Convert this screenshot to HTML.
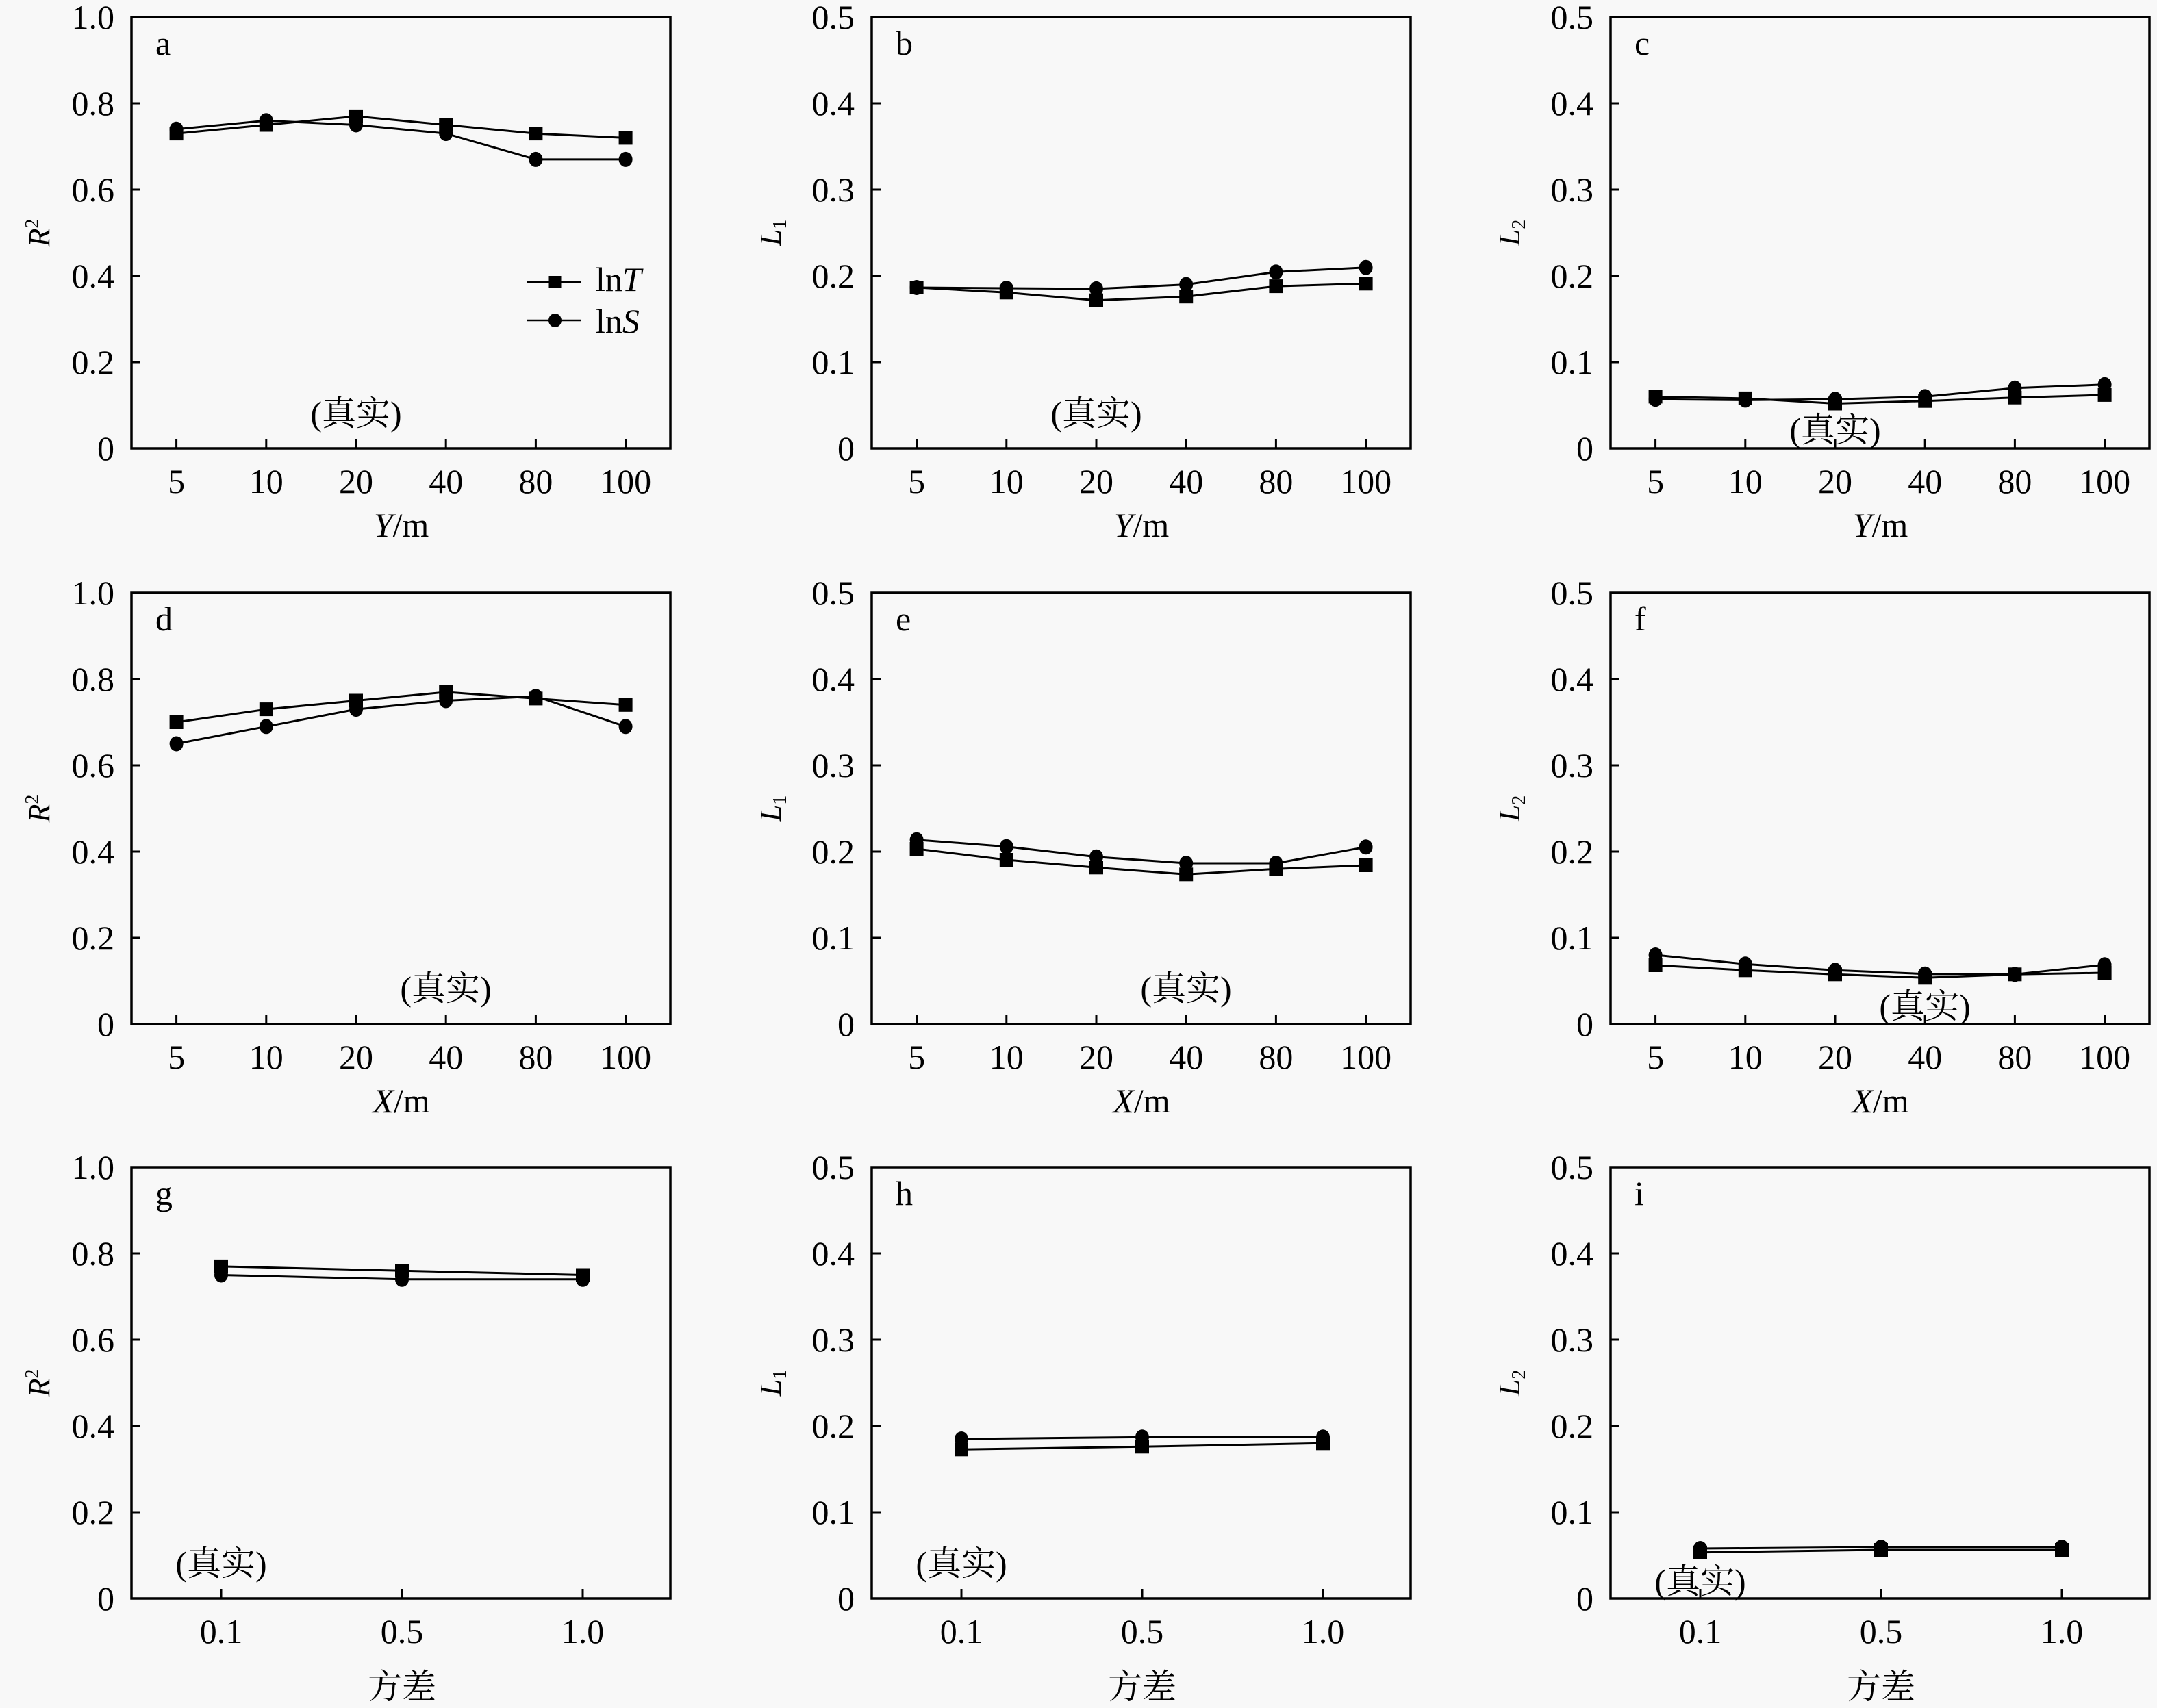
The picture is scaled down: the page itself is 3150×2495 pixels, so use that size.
<!DOCTYPE html>
<html><head><meta charset="utf-8"><style>
html,body{margin:0;padding:0;background:#f8f8f8;}
svg{display:block;}
text{font-family:"Liberation Serif","Noto Serif CJK SC",serif;fill:#000;}
.t{font-size:50px;}
.r{text-anchor:end;}
.m{text-anchor:middle;}
.ax{font-size:44px;}
.fr{fill:none;stroke:#000;stroke-width:3.5;}
.tk{fill:none;stroke:#000;stroke-width:3;}
.sT{fill:none;stroke:#000;stroke-width:3;marker-start:url(#sq);marker-mid:url(#sq);marker-end:url(#sq);}
.sS{fill:none;stroke:#000;stroke-width:3;marker-start:url(#ci);marker-mid:url(#ci);marker-end:url(#ci);}
</style></head><body>
<svg width="3150" height="2495" viewBox="0 0 3150 2495" xmlns="http://www.w3.org/2000/svg">
<defs>
<marker id="sq" markerUnits="userSpaceOnUse" markerWidth="22" markerHeight="22" refX="11" refY="11" viewBox="0 0 22 22"><rect x="1" y="1" width="20" height="20" fill="#000"/></marker>
<marker id="ci" markerUnits="userSpaceOnUse" markerWidth="22" markerHeight="24" refX="11" refY="12" viewBox="0 0 22 24"><ellipse cx="11" cy="12" rx="10" ry="11" fill="#000"/></marker>
</defs>
<rect x="0" y="0" width="3150" height="2495" fill="#f8f8f8"/>

<!-- frames -->
<rect class="fr" x="192" y="25" width="787" height="630"/>
<rect class="fr" x="1273" y="25" width="787" height="630"/>
<rect class="fr" x="2352" y="25" width="787" height="630"/>
<rect class="fr" x="192" y="866" width="787" height="630"/>
<rect class="fr" x="1273" y="866" width="787" height="630"/>
<rect class="fr" x="2352" y="866" width="787" height="630"/>
<rect class="fr" x="192" y="1705" width="787" height="630"/>
<rect class="fr" x="1273" y="1705" width="787" height="630"/>
<rect class="fr" x="2352" y="1705" width="787" height="630"/>

<!-- ticks -->
<path class="tk" d="M192 151h13M192 277h13M192 403h13M192 529h13M257.6 655v-14M388.8 655v-14M520 655v-14M651.2 655v-14M782.4 655v-14M913.6 655v-14"/>
<path class="tk" d="M1273 151h13M1273 277h13M1273 403h13M1273 529h13M1338.6 655v-14M1469.8 655v-14M1601 655v-14M1732.2 655v-14M1863.4 655v-14M1994.6 655v-14"/>
<path class="tk" d="M2352 151h13M2352 277h13M2352 403h13M2352 529h13M2417.6 655v-14M2548.8 655v-14M2680 655v-14M2811.2 655v-14M2942.4 655v-14M3073.6 655v-14"/>
<path class="tk" d="M192 992h13M192 1118h13M192 1244h13M192 1370h13M257.6 1496v-14M388.8 1496v-14M520 1496v-14M651.2 1496v-14M782.4 1496v-14M913.6 1496v-14"/>
<path class="tk" d="M1273 992h13M1273 1118h13M1273 1244h13M1273 1370h13M1338.6 1496v-14M1469.8 1496v-14M1601 1496v-14M1732.2 1496v-14M1863.4 1496v-14M1994.6 1496v-14"/>
<path class="tk" d="M2352 992h13M2352 1118h13M2352 1244h13M2352 1370h13M2417.6 1496v-14M2548.8 1496v-14M2680 1496v-14M2811.2 1496v-14M2942.4 1496v-14M3073.6 1496v-14"/>
<path class="tk" d="M192 1831h13M192 1957h13M192 2083h13M192 2209h13M323 2335v-14M587 2335v-14M851 2335v-14"/>
<path class="tk" d="M1273 1831h13M1273 1957h13M1273 2083h13M1273 2209h13M1404 2335v-14M1668 2335v-14M1932 2335v-14"/>
<path class="tk" d="M2352 1831h13M2352 1957h13M2352 2083h13M2352 2209h13M2483 2335v-14M2747 2335v-14M3011 2335v-14"/>

<!-- y tick labels row 1 -->
<g class="t r">
<text x="167" y="672">0</text><text x="167" y="546">0.2</text><text x="167" y="420">0.4</text><text x="167" y="294">0.6</text><text x="167" y="168">0.8</text><text x="167" y="42">1.0</text>
<text x="1248" y="672">0</text><text x="1248" y="546">0.1</text><text x="1248" y="420">0.2</text><text x="1248" y="294">0.3</text><text x="1248" y="168">0.4</text><text x="1248" y="42">0.5</text>
<text x="2327" y="672">0</text><text x="2327" y="546">0.1</text><text x="2327" y="420">0.2</text><text x="2327" y="294">0.3</text><text x="2327" y="168">0.4</text><text x="2327" y="42">0.5</text>
<!-- row 2 -->
<text x="167" y="1513">0</text><text x="167" y="1387">0.2</text><text x="167" y="1261">0.4</text><text x="167" y="1135">0.6</text><text x="167" y="1009">0.8</text><text x="167" y="883">1.0</text>
<text x="1248" y="1513">0</text><text x="1248" y="1387">0.1</text><text x="1248" y="1261">0.2</text><text x="1248" y="1135">0.3</text><text x="1248" y="1009">0.4</text><text x="1248" y="883">0.5</text>
<text x="2327" y="1513">0</text><text x="2327" y="1387">0.1</text><text x="2327" y="1261">0.2</text><text x="2327" y="1135">0.3</text><text x="2327" y="1009">0.4</text><text x="2327" y="883">0.5</text>
<!-- row 3 -->
<text x="167" y="2352">0</text><text x="167" y="2226">0.2</text><text x="167" y="2100">0.4</text><text x="167" y="1974">0.6</text><text x="167" y="1848">0.8</text><text x="167" y="1722">1.0</text>
<text x="1248" y="2352">0</text><text x="1248" y="2226">0.1</text><text x="1248" y="2100">0.2</text><text x="1248" y="1974">0.3</text><text x="1248" y="1848">0.4</text><text x="1248" y="1722">0.5</text>
<text x="2327" y="2352">0</text><text x="2327" y="2226">0.1</text><text x="2327" y="2100">0.2</text><text x="2327" y="1974">0.3</text><text x="2327" y="1848">0.4</text><text x="2327" y="1722">0.5</text>
</g>

<!-- x tick labels -->
<g class="t m">
<text x="257.6" y="720">5</text><text x="388.8" y="720">10</text><text x="520" y="720">20</text><text x="651.2" y="720">40</text><text x="782.4" y="720">80</text><text x="913.6" y="720">100</text>
<text x="1338.6" y="720">5</text><text x="1469.8" y="720">10</text><text x="1601" y="720">20</text><text x="1732.2" y="720">40</text><text x="1863.4" y="720">80</text><text x="1994.6" y="720">100</text>
<text x="2417.6" y="720">5</text><text x="2548.8" y="720">10</text><text x="2680" y="720">20</text><text x="2811.2" y="720">40</text><text x="2942.4" y="720">80</text><text x="3073.6" y="720">100</text>
<text x="257.6" y="1561">5</text><text x="388.8" y="1561">10</text><text x="520" y="1561">20</text><text x="651.2" y="1561">40</text><text x="782.4" y="1561">80</text><text x="913.6" y="1561">100</text>
<text x="1338.6" y="1561">5</text><text x="1469.8" y="1561">10</text><text x="1601" y="1561">20</text><text x="1732.2" y="1561">40</text><text x="1863.4" y="1561">80</text><text x="1994.6" y="1561">100</text>
<text x="2417.6" y="1561">5</text><text x="2548.8" y="1561">10</text><text x="2680" y="1561">20</text><text x="2811.2" y="1561">40</text><text x="2942.4" y="1561">80</text><text x="3073.6" y="1561">100</text>
<text x="323" y="2400">0.1</text><text x="587" y="2400">0.5</text><text x="851" y="2400">1.0</text>
<text x="1404" y="2400">0.1</text><text x="1668" y="2400">0.5</text><text x="1932" y="2400">1.0</text>
<text x="2483" y="2400">0.1</text><text x="2747" y="2400">0.5</text><text x="3011" y="2400">1.0</text>
</g>

<!-- x axis titles -->
<g class="t m">
<text x="586" y="784"><tspan font-style="italic">Y</tspan>/m</text>
<text x="1667" y="784"><tspan font-style="italic">Y</tspan>/m</text>
<text x="2746" y="784"><tspan font-style="italic">Y</tspan>/m</text>
<text x="586" y="1625"><tspan font-style="italic">X</tspan>/m</text>
<text x="1667" y="1625"><tspan font-style="italic">X</tspan>/m</text>
<text x="2746" y="1625"><tspan font-style="italic">X</tspan>/m</text>
<text x="587" y="2481">方差</text>
<text x="1668" y="2481">方差</text>
<text x="2747" y="2481">方差</text>
</g>

<!-- y axis titles -->
<g class="ax m">
<text transform="translate(72,340) rotate(-90)"><tspan font-style="italic">R</tspan><tspan font-size="28" dy="-16">2</tspan></text>
<text transform="translate(72,1181) rotate(-90)"><tspan font-style="italic">R</tspan><tspan font-size="28" dy="-16">2</tspan></text>
<text transform="translate(72,2020) rotate(-90)"><tspan font-style="italic">R</tspan><tspan font-size="28" dy="-16">2</tspan></text>
<text transform="translate(1140,340) rotate(-90)"><tspan font-style="italic">L</tspan><tspan font-size="28" dy="8">1</tspan></text>
<text transform="translate(1140,1181) rotate(-90)"><tspan font-style="italic">L</tspan><tspan font-size="28" dy="8">1</tspan></text>
<text transform="translate(1140,2020) rotate(-90)"><tspan font-style="italic">L</tspan><tspan font-size="28" dy="8">1</tspan></text>
<text transform="translate(2219,340) rotate(-90)"><tspan font-style="italic">L</tspan><tspan font-size="28" dy="8">2</tspan></text>
<text transform="translate(2219,1181) rotate(-90)"><tspan font-style="italic">L</tspan><tspan font-size="28" dy="8">2</tspan></text>
<text transform="translate(2219,2020) rotate(-90)"><tspan font-style="italic">L</tspan><tspan font-size="28" dy="8">2</tspan></text>
</g>

<!-- panel letters -->
<g class="t">
<text x="227" y="80">a</text><text x="1308" y="80">b</text><text x="2387" y="80">c</text>
<text x="227" y="921">d</text><text x="1308" y="921">e</text><text x="2387" y="921">f</text>
<text x="227" y="1760">g</text><text x="1308" y="1760">h</text><text x="2387" y="1760">i</text>
</g>

<!-- (真实) labels -->
<g class="t m">
<text x="520" y="621">(真实)</text>
<text x="1601" y="621">(真实)</text>
<text x="2680" y="645">(真实)</text>
<text x="651" y="1461">(真实)</text>
<text x="1732" y="1461">(真实)</text>
<text x="2811" y="1487">(真实)</text>
<text x="323" y="2301">(真实)</text>
<text x="1404" y="2301">(真实)</text>
<text x="2483" y="2327">(真实)</text>
</g>

<!-- legend -->
<line x1="770" y1="412" x2="849" y2="412" stroke="#000" stroke-width="2.5"/>
<rect x="801.5" y="403" width="18" height="18" fill="#000"/>
<line x1="770" y1="468" x2="849" y2="468" stroke="#000" stroke-width="2.5"/>
<ellipse cx="810.5" cy="468" rx="9.5" ry="10" fill="#000"/>
<text class="t" x="870" y="425">ln<tspan font-style="italic">T</tspan></text>
<text class="t" x="870" y="486">ln<tspan font-style="italic">S</tspan></text>

<!-- data -->
<polyline class="sT" points="257.6,195.1 388.8,182.5 520,169.9 651.2,182.5 782.4,195.1 913.6,201.4"/>
<polyline class="sS" points="257.6,188.8 388.8,176.2 520,182.5 651.2,195.1 782.4,232.9 913.6,232.9"/>

<polyline class="sT" points="1338.6,420 1469.8,427.3 1601,438.7 1732.2,433.2 1863.4,418.1 1994.6,414.3"/>
<polyline class="sS" points="1338.6,420 1469.8,421 1601,421.9 1732.2,415.6 1863.4,397.3 1994.6,390.7"/>

<polyline class="sT" points="2417.6,579.4 2548.8,581.9 2680,589.5 2811.2,585.7 2942.4,580.7 3073.6,576.9"/>
<polyline class="sS" points="2417.6,583.2 2548.8,584.4 2680,583.2 2811.2,579.4 2942.4,566.8 3073.6,561.8"/>

<polyline class="sT" points="257.6,1055 388.8,1036.1 520,1023.5 651.2,1010.9 782.4,1020.4 913.6,1029.8"/>
<polyline class="sS" points="257.6,1086.5 388.8,1061.3 520,1036.1 651.2,1023.5 782.4,1017.2 913.6,1061.3"/>

<polyline class="sT" points="1338.6,1240 1469.8,1256 1601,1267.3 1732.2,1277.3 1863.4,1269.3 1994.6,1264"/>
<polyline class="sS" points="1338.6,1226.7 1469.8,1236.7 1601,1251.7 1732.2,1261 1863.4,1261 1994.6,1237.3"/>

<polyline class="sT" points="2417.6,1410 2548.8,1417.3 2680,1423.3 2811.2,1428.3 2942.4,1423.3 3073.6,1421"/>
<polyline class="sS" points="2417.6,1395 2548.8,1408.3 2680,1417.3 2811.2,1422.7 2942.4,1423.3 3073.6,1409.3"/>

<polyline class="sT" points="323,1849.9 587,1856.2 851,1862.5"/>
<polyline class="sS" points="323,1862.5 587,1868.8 851,1868.8"/>

<polyline class="sT" points="1404,2117.3 1668,2113.3 1932,2108.3"/>
<polyline class="sS" points="1404,2102 1668,2099.3 1932,2099.3"/>

<polyline class="sT" points="2483,2267.7 2747,2264 3011,2264"/>
<polyline class="sS" points="2483,2262 2747,2260 3011,2260"/>
</svg>
</body></html>
